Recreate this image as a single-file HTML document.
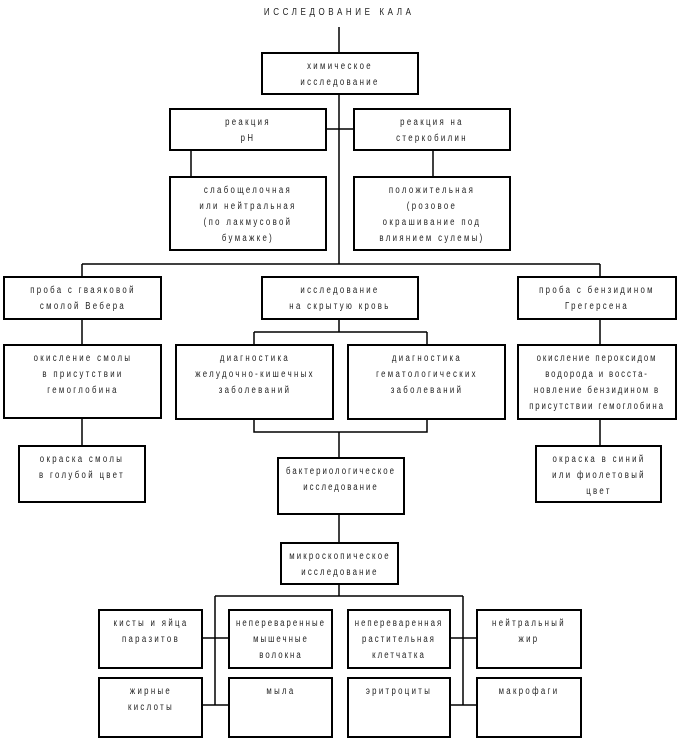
<!DOCTYPE html>
<html><head><meta charset="utf-8"><style>
body{margin:0;width:678px;height:738px;background:#fff;position:relative;overflow:hidden;font-family:"Liberation Sans Narrow","Liberation Sans",sans-serif;}
.b{position:absolute;border:2px solid #000;box-sizing:border-box;text-align:center;font-size:10px;line-height:16px;color:#222;white-space:nowrap;}
.b span{position:absolute;left:50%;top:5px;transform:translateX(-50%) scaleX(0.78);transform-origin:50% 0;letter-spacing:3px;text-align:center;}
.t{position:absolute;left:0;width:678px;top:7px;text-align:center;font-size:10px;color:#222;}
.t span{display:inline-block;transform:scaleX(0.8);letter-spacing:4.5px;}
svg{position:absolute;left:0;top:0;}
</style></head><body>
<svg width="678" height="738" stroke="#000" stroke-width="1.5" fill="none">
<path d="M339 27V52M339 94V264M326 129H353M191 150V176M433 150V176"/>
<path d="M82 264H600M82 264V276M600 264V276"/>
<path d="M82 319V344M82 418V445M600 319V344M600 419V445"/>
<path d="M339 319V332M254 332H427M254 332V344M427 332V344M254 419V432H427V419M339 432V457M339 514V542M339 584V596"/>
<path d="M215 596H463M215 596V705M463 596V705M202 638H228M450 638H476M202 705H228M450 705H476"/>
</svg>
<div class="t"><span>ИССЛЕДОВАНИЕ КАЛА</span></div>
<div class="b" style="left:261px;top:52px;width:158px;height:43px"><span>химическое<br>исследование</span></div>
<div class="b" style="left:169px;top:108px;width:158px;height:43px"><span>реакция<br>pH</span></div>
<div class="b" style="left:353px;top:108px;width:158px;height:43px"><span>реакция на<br>стеркобилин</span></div>
<div class="b" style="left:169px;top:176px;width:158px;height:75px"><span>слабощелочная<br>или нейтральная<br>(по лакмусовой<br>бумажке)</span></div>
<div class="b" style="left:353px;top:176px;width:158px;height:75px"><span>положительная<br>(розовое<br>окрашивание под<br>влиянием сулемы)</span></div>
<div class="b" style="left:3px;top:276px;width:159px;height:44px"><span>проба с гваяковой<br>смолой Вебера</span></div>
<div class="b" style="left:261px;top:276px;width:158px;height:44px"><span>исследование<br>на скрытую кровь</span></div>
<div class="b" style="left:517px;top:276px;width:160px;height:44px"><span>проба с бензидином<br>Грегерсена</span></div>
<div class="b" style="left:3px;top:344px;width:159px;height:75px"><span>окисление смолы<br>в присутствии<br>гемоглобина</span></div>
<div class="b" style="left:175px;top:344px;width:159px;height:76px"><span>диагностика<br>желудочно-кишечных<br>заболеваний</span></div>
<div class="b" style="left:347px;top:344px;width:159px;height:76px"><span>диагностика<br>гематологических<br>заболеваний</span></div>
<div class="b" style="left:517px;top:344px;width:160px;height:76px"><span style="letter-spacing:2.4px">окисление пероксидом<br>водорода и восста-<br>новление бензидином в<br>присутствии гемоглобина</span></div>
<div class="b" style="left:18px;top:445px;width:128px;height:58px"><span>окраска смолы<br>в голубой цвет</span></div>
<div class="b" style="left:535px;top:445px;width:127px;height:58px"><span>окраска в синий<br>или фиолетовый<br>цвет</span></div>
<div class="b" style="left:277px;top:457px;width:128px;height:58px"><span style="letter-spacing:2.6px">бактериологическое<br>исследование</span></div>
<div class="b" style="left:280px;top:542px;width:119px;height:43px"><span style="letter-spacing:2.8px">микроскопическое<br>исследование</span></div>
<div class="b" style="left:98px;top:609px;width:105px;height:60px"><span>кисты и яйца<br>паразитов</span></div>
<div class="b" style="left:228px;top:609px;width:105px;height:60px"><span style="letter-spacing:2.6px">непереваренные<br>мышечные<br>волокна</span></div>
<div class="b" style="left:347px;top:609px;width:104px;height:60px"><span style="letter-spacing:2.6px">непереваренная<br>растительная<br>клетчатка</span></div>
<div class="b" style="left:476px;top:609px;width:106px;height:60px"><span>нейтральный<br>жир</span></div>
<div class="b" style="left:98px;top:677px;width:105px;height:61px"><span>жирные<br>кислоты</span></div>
<div class="b" style="left:228px;top:677px;width:105px;height:61px"><span>мыла</span></div>
<div class="b" style="left:347px;top:677px;width:104px;height:61px"><span>эритроциты</span></div>
<div class="b" style="left:476px;top:677px;width:106px;height:61px"><span>макрофаги</span></div>
</body></html>
